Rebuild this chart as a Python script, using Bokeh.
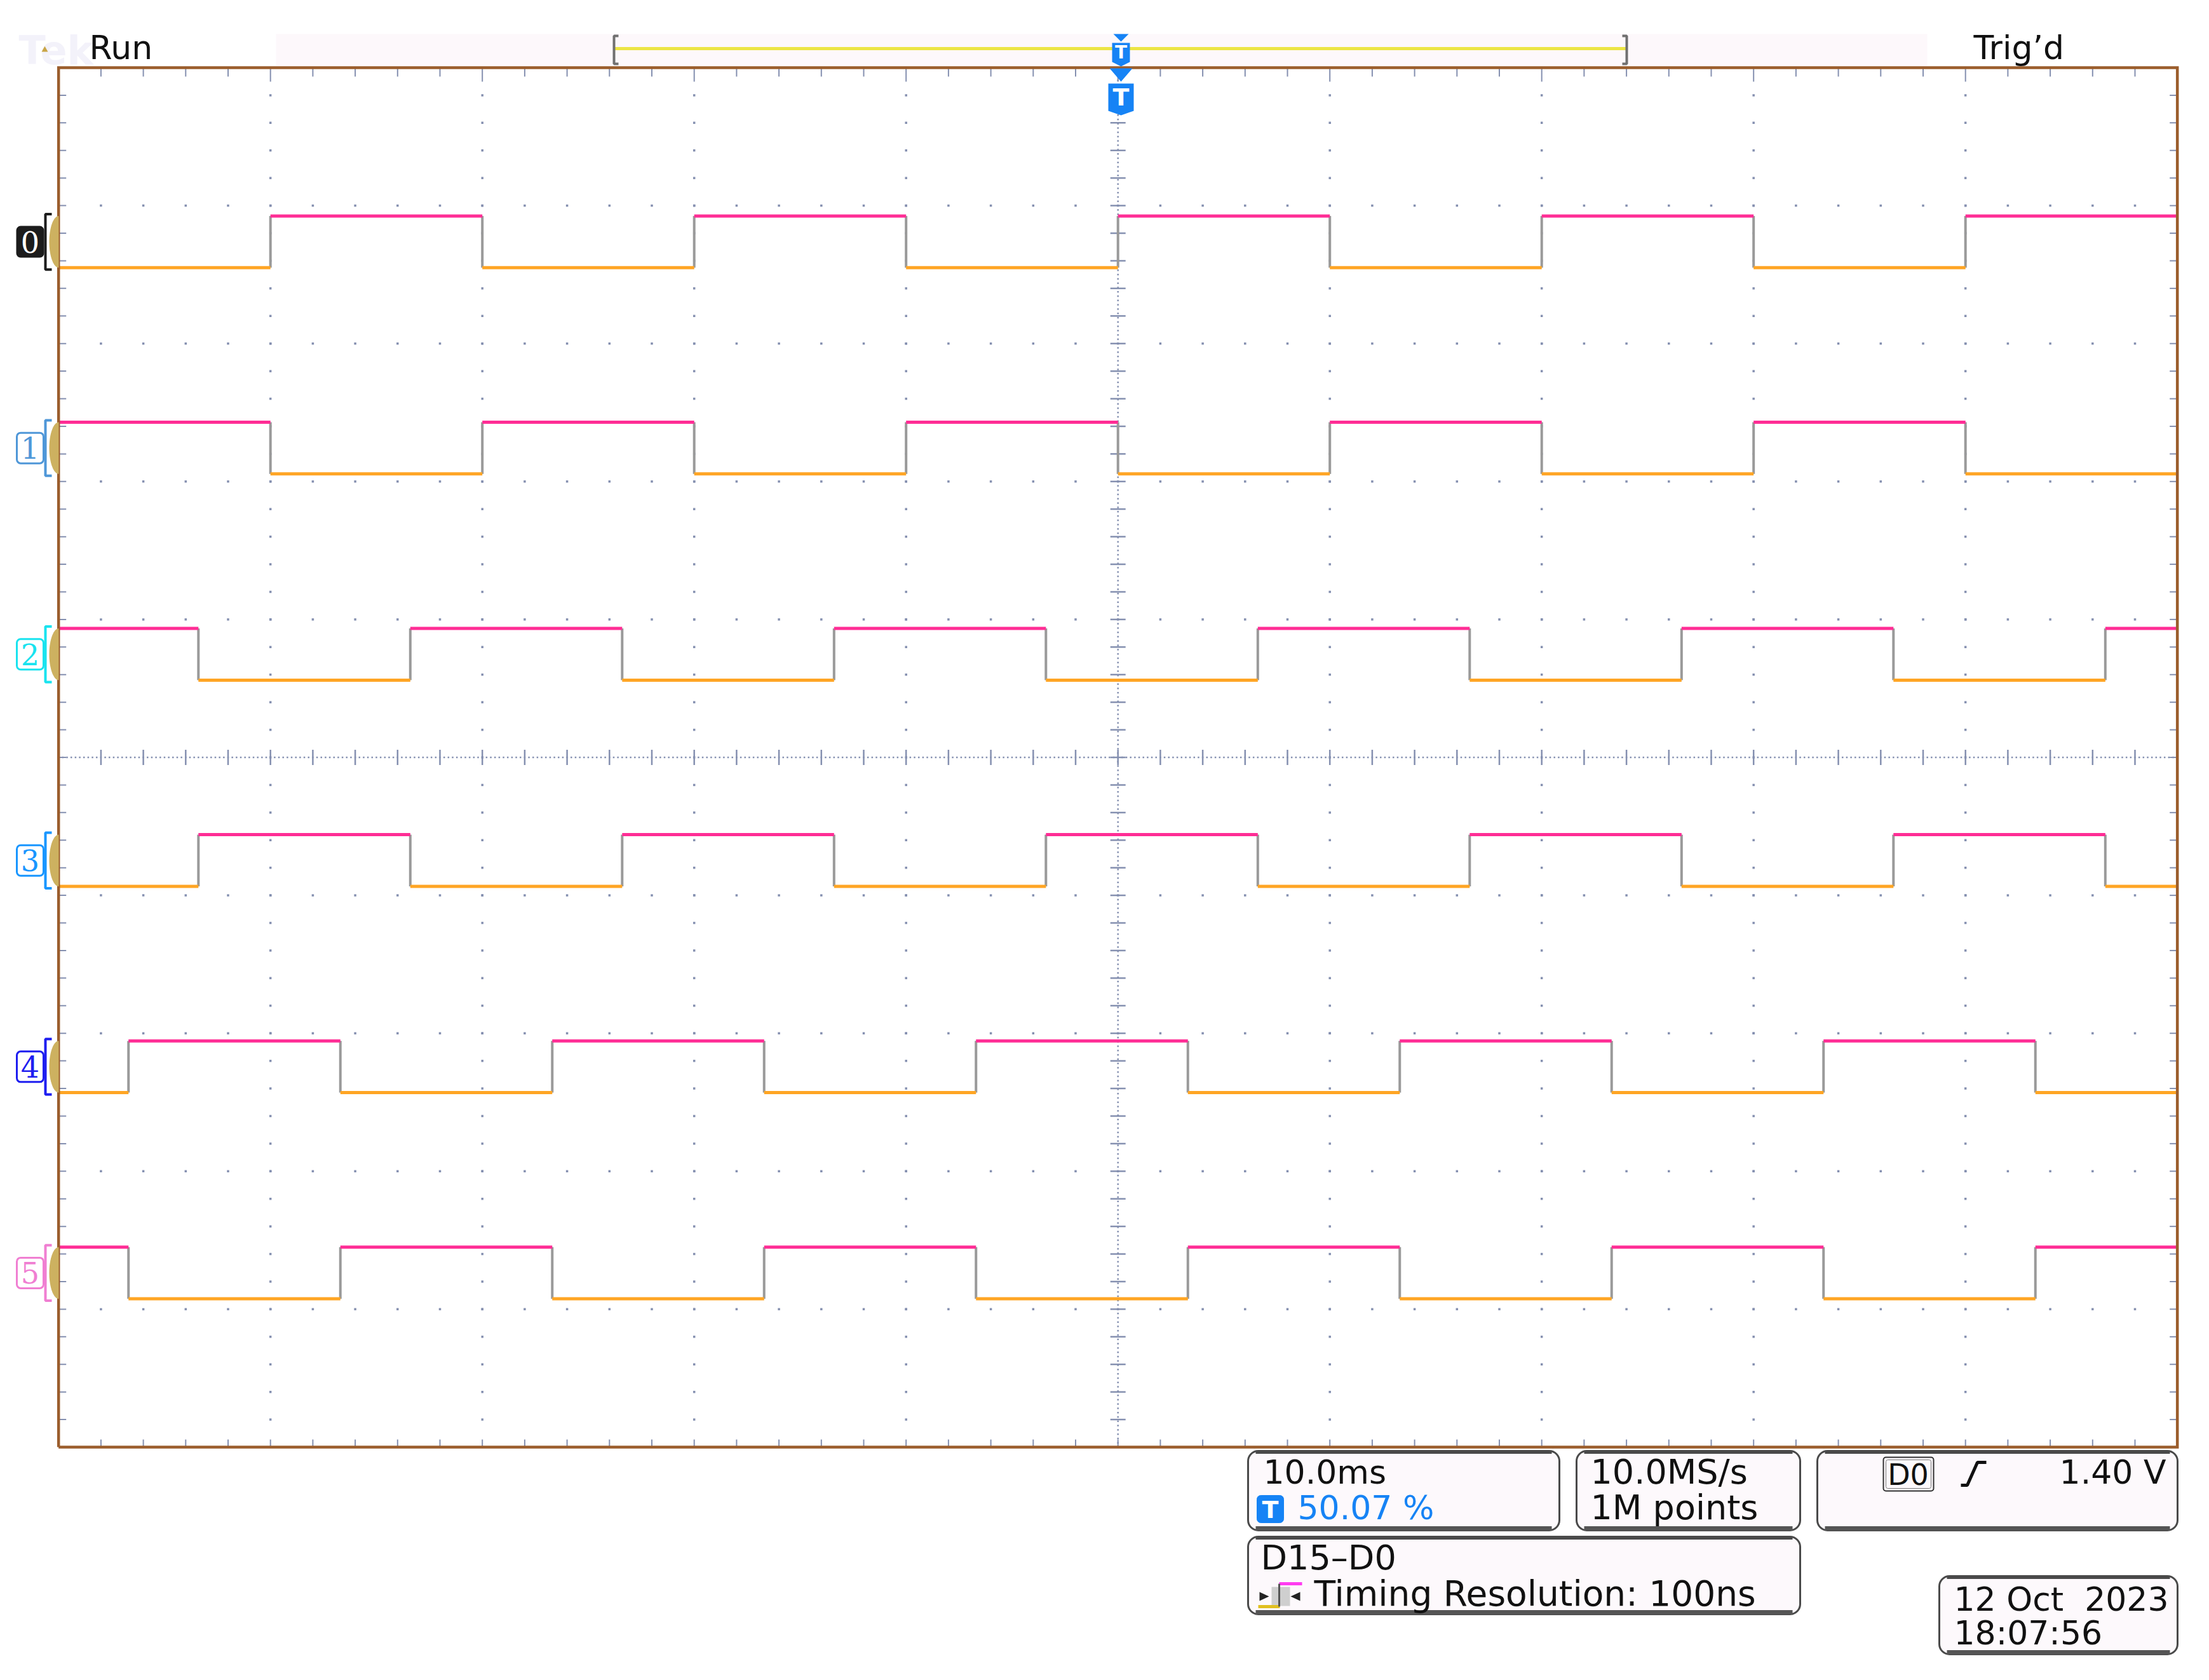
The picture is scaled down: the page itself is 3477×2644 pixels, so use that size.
import numpy as np
from bokeh.plotting import figure
from bokeh.models import Range1d, BoxAnnotation
from bokeh.core.properties import value
from bokeh.embed import file_html
from bokeh.resources import INLINE

# ---------------- data (time in ms, 10 ms/div; vertical in divisions) ----------------
channel_names = ["0", "1", "2", "3", "4", "5"]
channel_colors = ["#1c1c1c", "#4f97d8", "#19e3ef", "#1996ff", "#1e1ef0", "#f07fd2"]
start_high = [False, True, True, False, False, True]
edges_d0 = [-40.0, -30.0, -20.0, -10.0, 0.0, 10.0, 20.0, 30.0, 40.0]
edges_d1 = [-40.0, -30.0, -20.0, -10.0, 0.0, 10.0, 20.0, 30.0, 40.0]
edges_d2 = [-43.4, -33.4, -23.4, -13.4, -3.4, 6.6, 16.6, 26.6, 36.6, 46.6]
edges_d3 = [-43.4, -33.4, -23.4, -13.4, -3.4, 6.6, 16.6, 26.6, 36.6, 46.6]
edges_d4 = [-46.7, -36.7, -26.7, -16.7, -6.7, 3.3, 13.3, 23.3, 33.3, 43.3]
edges_d5 = [-46.7, -36.7, -26.7, -16.7, -6.7, 3.3, 13.3, 23.3, 33.3, 43.3]
high_level = [8.925, 7.43, 5.935, 4.44, 2.945, 1.45]
low_level = [8.55, 7.055, 5.56, 4.065, 2.57, 1.075]
t_start, t_end = -50.0, 50.0
n_xdiv, n_ydiv = 10, 10

status_text = "Run"
trig_status_text = "Trig\u2019d"
timebase_text = "10.0ms"
trigger_pos_text = "50.07 %"
sample_rate_text = "10.0MS/s"
record_text = "1M points"
trig_source_text = "D0"
trig_level_text = "1.40 V"
bus_text = "D15\u2013D0"
resolution_text = "Timing Resolution: 100ns"
date_text = "12 Oct\u00a0 2023"
clock_text = "18:07:56"

# ---------------- layout ----------------
W, H = 3472, 2640
FL, FR, FT, FB = 91.7, 3426.7, 106.0, 2277.0   # graticule edges in page pixels
MS_PER_PX = (t_end - t_start) / (FR - FL)
DIV_PER_PX = n_ydiv / (FB - FT)
BASE_FIX = 21  # baseline compensation for alphabetic text


def X(px):
    return t_start + (px - FL) * MS_PER_PX


def Y(py):
    return n_ydiv - (py - FT) * DIV_PER_PX


def YB(py):  # alphabetic baseline position
    return Y(py - BASE_FIX)


FONT = value("DejaVu Sans")
GRID = "#8590b0"
PINK, ORANGE, EDGE = "#ff2d95", "#ffa524", "#9a9a9a"
FRAME = "#9b5d2c"

p = figure(width=W, height=H, x_range=Range1d(X(0), X(W)), y_range=Range1d(Y(H), Y(0)),
           x_axis_type=None, y_axis_type=None, toolbar_location=None, output_backend="svg",
           min_border=0, outline_line_color=None, background_fill_color="white",
           border_fill_color="white")

# ---------------- graticule ----------------
major_x = [t_start + (t_end - t_start) * k / n_xdiv for k in range(1, n_xdiv)]
major_y = list(range(1, n_ydiv))
minor_y = np.arange(1, n_ydiv * 5) * 0.2
minor_x = t_start + np.arange(1, n_xdiv * 5) * (t_end - t_start) / (n_xdiv * 5)
vx = [x for x in major_x if x != 0.0]
hy = [y for y in major_y if y != 5]
gx = np.concatenate([np.repeat(vx, len(minor_y)), np.tile(minor_x, len(hy))])
gy = np.concatenate([np.tile(minor_y, len(vx)), np.repeat(hy, len(minor_x))])
p.scatter(gx, gy, marker="square", size=3.5, color=GRID, line_color=None)

# center cross (fine dots + minor ticks)
cxs = np.arange(t_start, t_end + 0.001, 0.2)
p.scatter(cxs, np.full(len(cxs), 5.0), marker="square", size=2.5, color=GRID, line_color=None)
cys = np.arange(0, n_ydiv + 0.001, 1 / 32)
p.scatter(np.zeros(len(cys)), cys, marker="square", size=2.5, color=GRID, line_color=None)
tick_h = 12 * DIV_PER_PX
tick_w = 12 * MS_PER_PX
p.segment(minor_x, 5 - tick_h, minor_x, 5 + tick_h, line_color=GRID, line_width=2.5)
p.segment(-tick_w, minor_y, tick_w, minor_y, line_color=GRID, line_width=2.5)

# edge ticks
top_len = np.array([22 if abs(round(x) % 10) == 0 else 14 for x in minor_x]) * DIV_PER_PX
p.segment(minor_x, n_ydiv, minor_x, n_ydiv - top_len, line_color=GRID, line_width=2)
p.segment(minor_x, 0, minor_x, 12 * DIV_PER_PX, line_color=GRID, line_width=2)
p.segment(t_start, minor_y, t_start + tick_w, minor_y, line_color=GRID, line_width=2)
p.segment(t_end, minor_y, t_end - tick_w, minor_y, line_color=GRID, line_width=2)

# ---------------- waveforms ----------------
all_edges = [edges_d0, edges_d1, edges_d2, edges_d3, edges_d4, edges_d5]
hx0, hx1, hyv, lx0, lx1, lyv, ex, ey0, ey1 = [], [], [], [], [], [], [], [], []
for i, edges in enumerate(all_edges):
    t = [t_start] + list(edges) + [t_end]
    state = start_high[i]
    for a, b in zip(t[:-1], t[1:]):
        if state:
            hx0.append(a); hx1.append(b); hyv.append(high_level[i])
        else:
            lx0.append(a); lx1.append(b); lyv.append(low_level[i])
        state = not state
    for e in edges:
        ex.append(e); ey0.append(low_level[i]); ey1.append(high_level[i])

p.segment(ex, ey0, ex, ey1, line_color=EDGE, line_width=4)
p.segment(lx0, lyv, lx1, lyv, line_color=ORANGE, line_width=5)
p.segment(hx0, hyv, hx1, hyv, line_color=PINK, line_width=5)

# frame
p.line([t_start, t_end, t_end, t_start, t_start], [0, 0, n_ydiv, n_ydiv, 0],
       line_color=FRAME, line_width=4.5, line_join="miter")

# ---------------- channel labels ----------------
th = np.linspace(np.pi / 2, 3 * np.pi / 2, 40)
for i, name in enumerate(channel_names):
    hi, lo = high_level[i], low_level[i]
    mid = (hi + lo) / 2
    col = channel_colors[i]
    half = 24 * DIV_PER_PX
    if i == 0:
        p.add_layout(BoxAnnotation(left=X(26), right=X(68), top=mid + half, bottom=mid - half,
                                   fill_color=col, fill_alpha=1, line_color=col, line_alpha=1,
                                   line_width=2, border_radius=6, level="underlay"))
        tcol = "white"
    else:
        p.add_layout(BoxAnnotation(left=X(26), right=X(68), top=mid + half, bottom=mid - half,
                                   fill_color="white", fill_alpha=1, line_color=col, line_alpha=1,
                                   line_width=3, border_radius=6, level="underlay"))
        tcol = col
    p.text([X(47)], [mid], text=[name], text_font=value("DejaVu Serif"), text_font_size="46px",
           text_color=tcol, text_align="center", text_baseline="middle")
    p.line([X(81), X(71), X(71), X(81)], [hi + 3 * DIV_PER_PX, hi + 3 * DIV_PER_PX,
                                          lo - 3 * DIV_PER_PX, lo - 3 * DIV_PER_PX],
           line_color=col, line_width=4)
    a = 15 * MS_PER_PX
    b = (hi - lo) / 2
    p.patch(X(92) + a * np.cos(th), mid + b * np.sin(th), fill_color="#cdb160", line_color=None)

# ---------------- top status bar ----------------
p.quad(left=[X(434)], right=[X(3033)], top=[Y(53)], bottom=[Y(103)], fill_color="#fdf8fb",
       line_color=None)
p.text([X(29)], [YB(100)], text=["Tek"], text_font=FONT, text_font_size="62px",
       text_font_style="bold", text_color="#f3f2fa", text_baseline="alphabetic")
p.scatter([X(70)], [Y(78)], marker="triangle", size=10, color="#c9a546", line_color=None)
p.text([X(140)], [YB(95)], text=[status_text], text_font=FONT, text_font_size="52px",
       text_color="#111111", text_baseline="alphabetic")
p.text([X(3106)], [YB(95)], text=[trig_status_text], text_font=FONT, text_font_size="52px",
       text_color="#111111", text_baseline="alphabetic")

# record bar
p.line([X(967), X(2559)], [Y(76), Y(76)], line_color="#ece545", line_width=5)
p.line([X(973), X(966), X(966), X(973)], [Y(56), Y(56), Y(100), Y(100)], line_color="#707070",
       line_width=4)
p.line([X(2553), X(2560), X(2560), X(2553)], [Y(56), Y(56), Y(100), Y(100)], line_color="#707070",
       line_width=4)

BLUE = "#1683f5"


def tmarker(cx, tri_top, tri_bot, body_top, body_bot, hw, fs):
    p.patch([X(cx - hw + 2), X(cx + hw - 2), X(cx)], [Y(tri_top), Y(tri_top), Y(tri_bot)],
            fill_color=BLUE, line_color=None)
    p.patch([X(cx - hw), X(cx + hw), X(cx + hw), X(cx), X(cx - hw)],
            [Y(body_top), Y(body_top), Y(body_bot - 7), Y(body_bot), Y(body_bot - 7)],
            fill_color=BLUE, line_color=None)
    p.text([X(cx)], [Y((body_top + body_bot - 7) / 2)], text=["T"], text_font=FONT,
           text_font_size=fs, text_font_style="bold", text_color="white", text_align="center",
           text_baseline="middle")


tmarker(1764, 53, 65, 67, 104, 14, "28px")
tmarker(1764, 107, 128, 131, 181, 20, "38px")

# ---------------- bottom readout boxes ----------------


def rbox(l, t, r, b):
    p.add_layout(BoxAnnotation(left=X(l), right=X(r), top=Y(t), bottom=Y(b), border_radius=16,
                               fill_color="#fdf9fc", fill_alpha=1, line_color="#4a4a4a",
                               line_alpha=1, line_width=3, level="underlay"))
    p.segment([X(l + 12)], [Y(b - 3)], [X(r - 12)], [Y(b - 3)], line_color="#555555", line_width=7)
    p.segment([X(l + 12)], [Y(t + 2)], [X(r - 12)], [Y(t + 2)], line_color="#4a4a4a", line_width=5)


rbox(1964, 2283, 2454, 2408)
rbox(2481, 2283, 2833, 2408)
rbox(2860, 2283, 3427, 2408)
rbox(1964, 2418, 2833, 2540)
rbox(3052, 2480, 3427, 2603)

TXT = dict(text_font=FONT, text_baseline="alphabetic", text_color="#111111")
p.text([X(1988), X(3075), X(3075)], [YB(2337), YB(2537), YB(2590)],
       text=[timebase_text, date_text, clock_text], text_font_size="52px", **TXT)
p.text([X(2503), X(2503), X(1984)], [YB(2337), YB(2393), YB(2472)],
       text=[sample_rate_text, record_text, bus_text], text_font_size="54px", **TXT)
p.text([X(2068)], [YB(2528)], text=[resolution_text], text_font_size="55px", **TXT)
p.text([X(3409)], [YB(2337)], text=[trig_level_text], text_font_size="52px", text_align="right",
       **TXT)
p.text([X(2042)], [YB(2393)], text=[trigger_pos_text], text_font=FONT, text_font_size="52px",
       text_baseline="alphabetic", text_color=BLUE)

# T badge
p.add_layout(BoxAnnotation(left=X(1978), right=X(2020), top=Y(2353), bottom=Y(2396),
                           border_radius=6, fill_color=BLUE, fill_alpha=1, line_color=BLUE,
                           line_alpha=1, line_width=1, level="underlay"))
p.text([X(1999)], [Y(2375)], text=["T"], text_font=FONT, text_font_size="38px",
       text_font_style="bold", text_color="white", text_align="center", text_baseline="middle")

# trigger source box "D0" and slope symbol
p.add_layout(BoxAnnotation(left=X(2964), right=X(3043), top=Y(2293), bottom=Y(2346),
                           border_radius=4, fill_alpha=0, line_color="#333333", line_alpha=1,
                           line_width=2, level="underlay"))
p.add_layout(BoxAnnotation(left=X(2968), right=X(3039), top=Y(2297), bottom=Y(2342),
                           border_radius=3, fill_alpha=0, line_color="#777777", line_alpha=1,
                           line_width=1, level="underlay"))
p.text([X(3003)], [Y(2320)], text=[trig_source_text], text_font=FONT, text_font_size="46px",
       text_color="#111111", text_align="center", text_baseline="middle")
p.line([X(3086), X(3096), X(3112), X(3126)], [Y(2337), Y(2337), Y(2301), Y(2301)],
       line_color="#111111", line_width=5)

# timing-resolution icon
p.quad(left=[X(2001)], right=[X(2030)], top=[Y(2497)], bottom=[Y(2527)], fill_color="#cfcfcf",
       line_color=None)
p.line([X(2013), X(2049)], [Y(2492), Y(2492)], line_color="#ff3df0", line_width=5)
p.line([X(1980), X(2014)], [Y(2528), Y(2528)], line_color="#e0c020", line_width=5)
p.line([X(2013), X(2013)], [Y(2492), Y(2528)], line_color="#555555", line_width=3)
p.patch([X(1982), X(1997), X(1982)], [Y(2505), Y(2512), Y(2519)], fill_color="#222222",
        line_color=None)
p.patch([X(2046), X(2031), X(2046)], [Y(2505), Y(2512), Y(2519)], fill_color="#222222",
        line_color=None)

open("out.html", "w").write(file_html(p, INLINE))
